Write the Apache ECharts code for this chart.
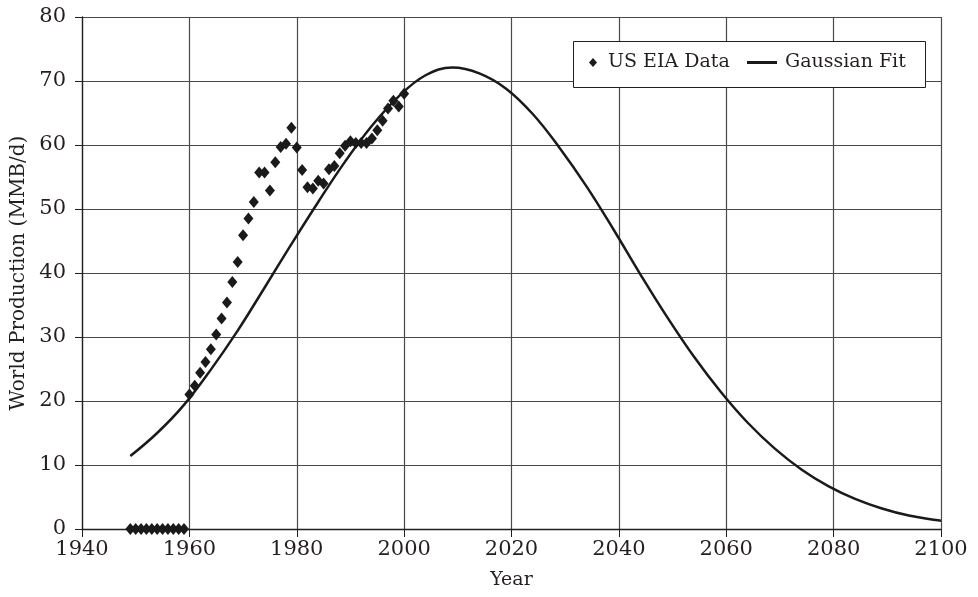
<!DOCTYPE html>
<html>
<head>
<meta charset="utf-8">
<script src="https://cdn.jsdelivr.net/npm/echarts@6/dist/echarts.min.js"></script>
<style>
  html, body { margin: 0; padding: 0; background: #fff; }
  #main { width: 978px; height: 597px; }
</style>
</head>
<body>
<div id="main"></div>
<script>
// US EIA data points (year, MMB/d)
var eiaYears = [1949, 1950, 1951, 1952, 1953, 1954, 1955, 1956, 1957, 1958, 1959,
  1960, 1961, 1962, 1963, 1964, 1965, 1966, 1967, 1968, 1969,
  1970, 1971, 1972, 1973, 1974, 1975, 1976, 1977, 1978, 1979,
  1980, 1981, 1982, 1983, 1984, 1985, 1986, 1987, 1988, 1989,
  1990, 1991, 1992, 1993, 1994, 1995, 1996, 1997, 1998, 1999, 2000];
var eiaValues = [0, 0, 0, 0, 0, 0, 0, 0, 0, 0, 0,
  21.0, 22.4, 24.4, 26.1, 28.1, 30.4, 32.9, 35.4, 38.6, 41.7,
  45.9, 48.5, 51.1, 55.7, 55.7, 52.9, 57.3, 59.7, 60.2, 62.7,
  59.6, 56.1, 53.4, 53.2, 54.4, 54.0, 56.2, 56.7, 58.7, 59.9,
  60.6, 60.3, 60.3, 60.3, 61.0, 62.3, 63.8, 65.7, 66.9, 66.0, 68.0];

// Gaussian fit curve
var fitYears = [1949, 1954, 1959, 1964, 1969, 1974, 1979, 1984, 1989, 1994, 1999,
  2004, 2009, 2014, 2019, 2024, 2029, 2034, 2039, 2044, 2049, 2054,
  2059, 2064, 2069, 2074, 2079, 2084, 2089, 2094, 2099, 2100];
var fitValues = [11.4, 15.0, 19.4, 24.9, 31.0, 37.7, 44.5, 51.1, 57.4, 63.0, 67.6,
  70.9, 72.1, 71.2, 68.8, 64.8, 59.5, 53.5, 46.8, 39.8, 33.1, 26.9,
  21.4, 16.6, 12.6, 9.3, 6.7, 4.7, 3.2, 2.1, 1.4, 1.3];

var font = 'DejaVu Serif';
var ink = '#231f20';
var legendText = { fontFamily: font, fontSize: 19, color: ink };

var chart = echarts.init(document.getElementById('main'));
chart.setOption({
  animation: false,
  backgroundColor: '#fff',
  textStyle: { fontFamily: font, color: ink },
  grid: { left: 82, right: 37, top: 17, bottom: 68, outerBoundsMode: 'none' },
  // legend frame
  graphic: [{
    type: 'rect',
    left: 573,
    top: 41,
    shape: { width: 352, height: 46 },
    style: { fill: '#fff', stroke: ink, lineWidth: 1 },
    z: 10
  }],
  legend: [
    {
      left: 589,
      top: 53,
      padding: 0,
      itemWidth: 8,
      itemHeight: 9,
      textStyle: Object.assign({ padding: [0, 0, 0, 6] }, legendText),
      data: [{ name: 'US EIA Data', icon: 'diamond' }],
      z: 11
    },
    {
      left: 747,
      top: 53,
      padding: 0,
      itemWidth: 30,
      itemHeight: 3,
      textStyle: Object.assign({ padding: [0, 0, 0, 3] }, legendText),
      data: [{ name: 'Gaussian Fit', icon: 'rect' }],
      z: 11
    }
  ],
  xAxis: {
    type: 'value',
    min: 1940,
    max: 2100,
    interval: 20,
    name: 'Year',
    nameLocation: 'middle',
    nameGap: 42,
    nameTextStyle: { fontFamily: font, fontSize: 19, color: ink },
    axisLine: { lineStyle: { color: ink, width: 1.3 } },
    axisTick: { show: true, length: 8, lineStyle: { color: ink } },
    axisLabel: {
      fontFamily: font, fontSize: 21, color: ink, margin: 10,
      formatter: function (v) { return String(v); }
    },
    splitLine: { show: true, lineStyle: { color: '#4a4a4a', width: 1.2 } }
  },
  yAxis: {
    type: 'value',
    min: 0,
    max: 80,
    interval: 10,
    name: 'World Production (MMB/d)',
    nameLocation: 'middle',
    nameGap: 53,
    nameTextStyle: { fontFamily: font, fontSize: 20, color: ink },
    axisLine: { show: true, lineStyle: { color: ink, width: 1.3 } },
    axisTick: { show: true, length: 7, lineStyle: { color: ink } },
    axisLabel: { fontFamily: font, fontSize: 21, color: ink, margin: 16 },
    splitLine: { show: true, lineStyle: { color: '#4a4a4a', width: 1.2 } }
  },
  series: [
    {
      name: 'US EIA Data',
      type: 'scatter',
      symbol: 'diamond',
      symbolSize: [10, 12],
      itemStyle: { color: '#1a1a1a', opacity: 1 },
      data: eiaYears.map(function (y, i) { return [y, eiaValues[i]]; }),
      z: 3
    },
    {
      name: 'Gaussian Fit',
      type: 'line',
      symbol: 'none',
      smooth: 0.4,
      lineStyle: { color: '#1a1a1a', width: 2.5 },
      itemStyle: { color: '#1a1a1a' },
      data: fitYears.map(function (y, i) { return [y, fitValues[i]]; }),
      z: 2
    }
  ]
});
</script>
</body>
</html>
